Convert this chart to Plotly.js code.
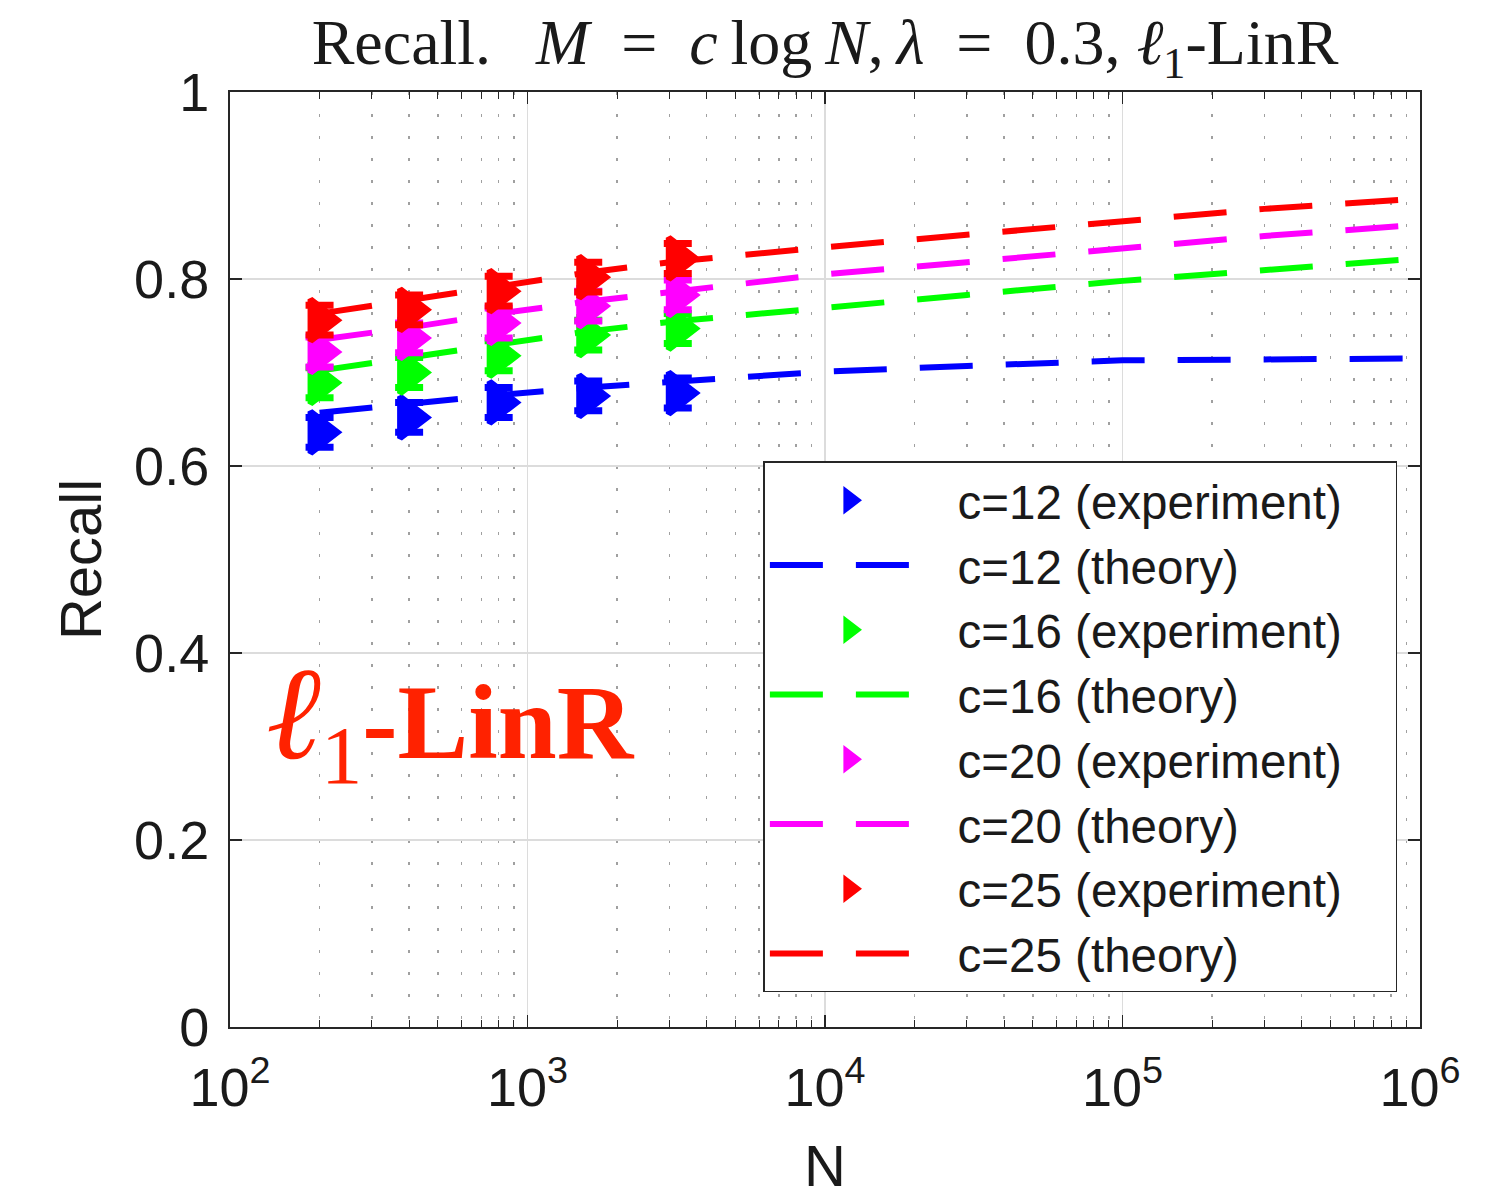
<!DOCTYPE html>
<html>
<head>
<meta charset="utf-8">
<script src="https://cdn.plot.ly/plotly-3.0.1.min.js"></script>
<style>
  html, body { margin: 0; padding: 0; background: #ffffff; }
  #chart { width: 1511px; height: 1198px; }
</style>
</head>
<body>
<div id="chart"></div>
<script>
// Problem sizes where the experiment was run, and where the theory curve is evaluated
const N_exp = [200, 400, 800, 1600, 3200];
const N_theory = [200, 400, 800, 1600, 3200, 10000, 30000, 100000, 300000, 1000000];

// c = 12
const recall_exp_c12 = [0.636, 0.652, 0.668, 0.675, 0.678];
const err_c12 = [0.016, 0.016, 0.016, 0.016, 0.016];
const recall_theory_c12 = [0.657, 0.667, 0.676, 0.684, 0.690, 0.701, 0.707, 0.713, 0.714, 0.715];

// c = 16
const recall_exp_c16 = [0.689, 0.700, 0.718, 0.740, 0.747];
const err_c16 = [0.016, 0.016, 0.016, 0.016, 0.016];
const recall_theory_c16 = [0.702, 0.716, 0.730, 0.744, 0.755, 0.770, 0.783, 0.798, 0.809, 0.822];

// c = 20
const recall_exp_c20 = [0.722, 0.737, 0.753, 0.771, 0.783];
const err_c20 = [0.016, 0.016, 0.016, 0.016, 0.016];
const recall_theory_c20 = [0.735, 0.748, 0.763, 0.776, 0.787, 0.805, 0.818, 0.833, 0.846, 0.858];

// c = 25
const recall_exp_c25 = [0.756, 0.767, 0.787, 0.802, 0.822];
const err_c25 = [0.016, 0.016, 0.016, 0.016, 0.016];
const recall_theory_c25 = [0.763, 0.777, 0.792, 0.807, 0.819, 0.834, 0.847, 0.862, 0.875, 0.886];

const c_labels = ['c=12', 'c=16', 'c=20', 'c=25'];
const colors = ['#0000ff', '#00ff00', '#ff00ff', '#ff0000'];

const xTickVals = [100, 1000, 10000, 100000, 1000000];
const xTickText = ['10<sup>2</sup>', '10<sup>3</sup>', '10<sup>4</sup>', '10<sup>5</sup>', '10<sup>6</sup>'];

const series = [
  { exp: recall_exp_c12, err: err_c12, th: recall_theory_c12 },
  { exp: recall_exp_c16, err: err_c16, th: recall_theory_c16 },
  { exp: recall_exp_c20, err: err_c20, th: recall_theory_c20 },
  { exp: recall_exp_c25, err: err_c25, th: recall_theory_c25 }
];

// padding around legend labels: a little gap after the symbol, more room before the border
const LEG_PAD = '\u00A0\u2009';
const LEG_TAIL = '\u00A0\u00A0\u00A0\u2009';

const traces = [];
series.forEach((s, i) => {
  traces.push({
    x: N_exp, y: s.exp,
    type: 'scatter', mode: 'markers',
    name: LEG_PAD + c_labels[i] + ' (experiment)' + LEG_TAIL,
    marker: { symbol: 'triangle-right', size: 36, color: colors[i],
              line: { color: colors[i], width: 6 } },
    error_y: { type: 'data', array: s.err, visible: true,
               color: colors[i], thickness: 7, width: 14 }
  });
  traces.push({
    x: N_theory, y: s.th,
    type: 'scatter', mode: 'lines',
    name: LEG_PAD + c_labels[i] + ' (theory)',
    line: { color: colors[i], width: 6, dash: '53px,33px' }
  });
});

// minor x positions: 2..9 times each decade
const minorX = [];
for (let d = 100; d < 1000000; d *= 10) {
  for (let k = 2; k <= 9; k++) minorX.push(k * d);
}

const sans = 'Liberation Sans, Arial, sans-serif';
const serif = 'Liberation Serif, Times New Roman, serif';
const tickFont = { family: sans, size: 54, color: '#1a1a1a' };
const axisTitleFont = { family: sans, size: 58, color: '#1a1a1a' };

const layout = {
  width: 1511, height: 1198,
  paper_bgcolor: '#ffffff', plot_bgcolor: '#ffffff',
  margin: { l: 230, r: 91, t: 92, b: 171 },
  showlegend: true,
  title: {
    text: 'Recall.\u00A0\u00A0\u2009<i>M</i>\u2002=\u2002<i>c</i>\u2009log\u2009<i>N</i>,\u2009<i>λ</i>\u2002=\u20020.3,\u2005<i>ℓ</i><sub>1</sub>-LinR',
    font: { family: serif, size: 64, color: '#1a1a1a' },
    x: 0.5, xref: 'paper', xanchor: 'center',
    y: 1 - 42 / 1198, yref: 'container', yanchor: 'middle'
  },
  xaxis: {
    type: 'log',
    range: [2, 6],
    tickvals: xTickVals, ticktext: xTickText,
    tickfont: tickFont,
    ticks: 'inside', ticklen: 12, tickwidth: 1.5, tickcolor: '#262626',
    showline: true, linecolor: '#262626', linewidth: 2, mirror: 'ticks',
    showgrid: true, gridcolor: '#dcdcdc', gridwidth: 1.5,
    zeroline: false,
    ticklabelstandoff: 12,
    minor: { tickvals: minorX, ticks: 'inside', ticklen: 7, tickcolor: '#262626', tickwidth: 1,
             showgrid: true, gridcolor: '#a0a0a0', gridwidth: 1.4, griddash: '3px,19px' },
    title: { text: 'N', font: axisTitleFont, standoff: 30 }
  },
  yaxis: {
    range: [0, 1],
    tickvals: [0, 0.2, 0.4, 0.6, 0.8, 1],
    ticktext: ['0', '0.2', '0.4', '0.6', '0.8', '1'],
    tickfont: tickFont,
    ticks: 'inside', ticklen: 12, tickwidth: 1.5, tickcolor: '#262626',
    showline: true, linecolor: '#262626', linewidth: 2, mirror: 'ticks',
    showgrid: true, gridcolor: '#dcdcdc', gridwidth: 1.5,
    zeroline: false,
    ticklabelstandoff: 8,
    title: { text: 'Recall', font: axisTitleFont, standoff: 14 }
  },
  legend: {
    x: 0.981, xanchor: 'right', xref: 'paper',
    y: 0.037, yanchor: 'bottom', yref: 'paper',
    bgcolor: '#ffffff', bordercolor: '#262626', borderwidth: 1.5,
    font: { family: sans, size: 47.5, color: '#1a1a1a' },
    itemwidth: 160,
    tracegroupgap: 0
  },
  annotations: [{
    xref: 'paper', yref: 'paper',
    x: (264 - 230) / 1190, xanchor: 'left',
    y: (1027 - 720) / 935, yanchor: 'middle',
    showarrow: false,
    text: '<span style="font-size:132px"><i>ℓ</i></span><span style="font-size:118px"><sub>1</sub></span><b>-LinR</b>',
    font: { family: serif, size: 106, color: '#ff2200' }
  }]
};

Plotly.newPlot('chart', traces, layout, { staticPlot: true, displayModeBar: false });
</script>
</body>
</html>
